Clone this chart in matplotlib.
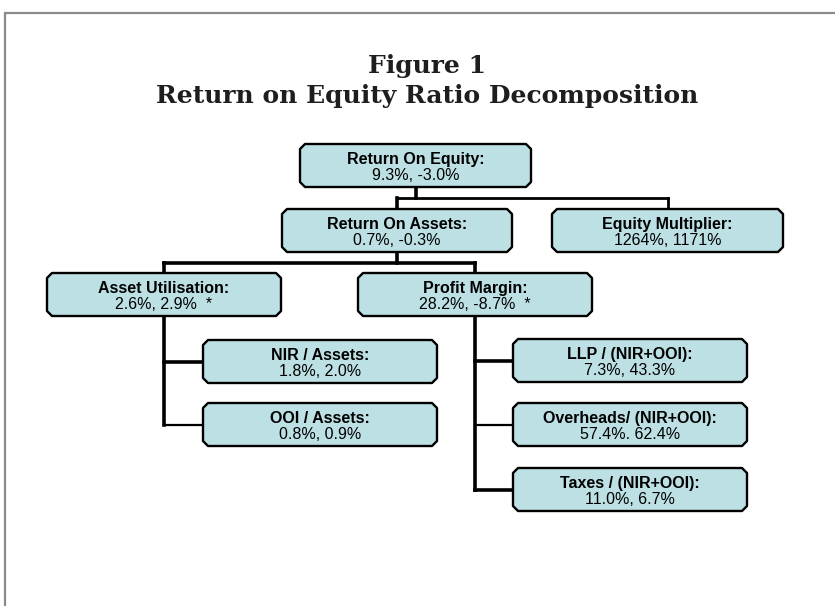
import matplotlib
matplotlib.use("Agg")
import matplotlib.pyplot as plt
from matplotlib.patches import Polygon
from matplotlib.lines import Line2D

# ---------------- data ----------------
node_labels = ["Return On Equity:", "Return On Assets:", "Equity Multiplier:",
               "Asset Utilisation:", "Profit Margin:", "NIR / Assets:",
               "OOI / Assets:", "LLP / (NIR+OOI):", "Overheads/ (NIR+OOI):",
               "Taxes / (NIR+OOI):"]
first_values = [9.3, 0.7, 1264, 2.6, 28.2, 1.8, 0.8, 7.3, 57.4, 11.0]
second_values = [-3.0, -0.3, 1171, 2.9, -8.7, 2.0, 0.9, 43.3, 62.4, 6.7]
value_decimals = [1, 1, 0, 1, 1, 1, 1, 1, 1, 1]
value_separators = [", ", ", ", ", ", ", ", ", ", ", ", ", ", ", ", ". ", ", "]
value_notes = ["", "", "", "  *", "  *", "", "", "", "", ""]
title_lines = ["Figure 1", "Return on Equity Ratio Decomposition"]

# tree structure: (parent, children)
bus_edges = [(0, [1, 2]), (1, [3, 4])]
side_edges = [(3, [5, 6]), (4, [7, 8, 9])]

# ---------------- layout (pixels, y downward) ----------------
W, H = 835, 606
box_left = [300, 282, 552, 47, 358, 203, 203, 513, 513, 513]
box_top = [144, 209, 209, 273, 273, 340, 403, 339, 403, 468]
box_w = [231, 230, 231, 234, 234, 234, 234, 234, 234, 234]
box_h = 43
chamfer = 5
fill_color = "#BCE0E3"

fig = plt.figure(figsize=(W / 100, H / 100), dpi=100)
ax = fig.add_axes([0, 0, 1, 1])
ax.set_xlim(0, W)
ax.set_ylim(H, 0)
ax.axis("off")

# frame
ax.add_line(Line2D([5, 5, W], [H, 13, 13], color="#8a8a8a", lw=1.6,
                   solid_joinstyle="miter"))

# title
ax.text(427, 73, title_lines[0], ha="center", va="baseline",
        fontsize=18, fontweight="bold", family="DejaVu Serif", color="#1e1e1e")
ax.text(427, 103, title_lines[1], ha="center", va="baseline",
        fontsize=18, fontweight="bold", family="DejaVu Serif", color="#1e1e1e")


def center_x(i):
    return box_left[i] + box_w[i] / 2


def center_y(i):
    return box_top[i] + box_h / 2


thick, thin = 2.6, 1.6

# bus connectors
for p, kids in bus_edges:
    bus_y = box_top[p] + box_h + 11
    px = round(center_x(p))
    ax.add_line(Line2D([px, px], [box_top[p] + box_h, bus_y], color="black", lw=thick))
    xs = [center_x(k) for k in kids]
    ax.add_line(Line2D([min(xs), max(xs)], [bus_y, bus_y], color="black",
                       lw=thick if p == 1 else 2.0, solid_capstyle="projecting"))
    for k in kids:
        lw = 2.0 if k == 2 else thick
        ax.add_line(Line2D([center_x(k), center_x(k)], [bus_y, box_top[k]],
                           color="black", lw=lw, solid_capstyle="projecting"))

# side connectors
for p, kids in side_edges:
    px = center_x(p)
    last_y = center_y(kids[-1])
    ax.add_line(Line2D([px, px], [box_top[p] + box_h, last_y], color="black",
                       lw=thick, solid_capstyle="projecting"))
    for j, k in enumerate(kids):
        lw = thin if (j == 1) else thick
        ax.add_line(Line2D([px, box_left[k]], [center_y(k), center_y(k)],
                           color="black", lw=lw, solid_capstyle="projecting"))

# boxes
for i, lab in enumerate(node_labels):
    x0, y0 = box_left[i], box_top[i]
    x1, y1 = x0 + box_w[i], y0 + box_h
    c = chamfer
    pts = [(x0 + c, y0), (x1 - c, y0), (x1, y0 + c), (x1, y1 - c),
           (x1 - c, y1), (x0 + c, y1), (x0, y1 - c), (x0, y0 + c)]
    ax.add_patch(Polygon(pts, closed=True, facecolor=fill_color,
                         edgecolor="black", lw=1.7, joinstyle="round", zorder=3))
    cx = center_x(i)
    d = value_decimals[i]
    val = (f"{first_values[i]:.{d}f}%{value_separators[i]}"
           f"{second_values[i]:.{d}f}%{value_notes[i]}")
    ax.text(cx, y0 + 20, lab, ha="center", va="baseline", fontsize=11.5,
            fontweight="bold", family="Liberation Sans", zorder=4)
    ax.text(cx, y0 + 36, val, ha="center", va="baseline", fontsize=11.5,
            family="Liberation Sans", zorder=4)

fig.savefig("out.png", dpi=100)
